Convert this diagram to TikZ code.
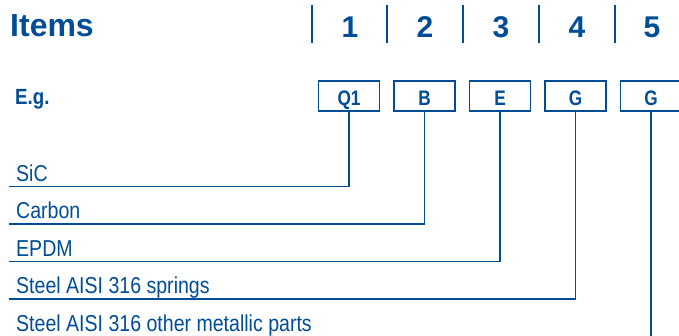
\documentclass[tikz,border=0pt]{standalone}
\usepackage{fontspec}
\setmainfont{Liberation Sans}
\newfontfamily\narrowfont[FakeStretch=0.85]{Liberation Sans}
\newfontfamily\boxfont[FakeStretch=0.82]{Liberation Sans}
\usepackage{xcolor}
\usetikzlibrary{positioning}
\definecolor{itemblue}{RGB}{0,76,151}
\tikzset{
  % boxes holding the code letters
  codebox/.style={draw=itemblue, line width=1.4pt, minimum width=61pt,
    minimum height=30pt, inner sep=0pt, text=itemblue, text height=19.5pt,
    text depth=0pt, font=\boxfont\bfseries\fontsize{21}{21}\selectfont},
  matlabel/.style={anchor=base west, inner sep=0pt, text=itemblue,
    font=\narrowfont\fontsize{23}{23}\selectfont},
  leader/.style={draw=itemblue, line width=1.4pt},
}

\begin{document}
\begin{tikzpicture}[x=1pt, y=-1pt]
  \useasboundingbox (0,0) rectangle (679,335);
  \node[anchor=base west, inner sep=0pt, text=itemblue,
    font=\bfseries\fontsize{32}{32}\selectfont] (items) at (10,36) {Items};
  \foreach \x in {312,387,463,539,615}
    \draw[itemblue, line width=1.2pt] (\x,5) -- (\x,43);
  \foreach \n/\x in {1/350,2/425,3/501,4/577,5/652}
    \node[anchor=base, inner sep=0pt, text=itemblue,
      font=\bfseries\fontsize{30}{30}\selectfont] (digit\n) at (\x,37) {\n};
  \node[anchor=base west, inner sep=0pt, text=itemblue,
    font=\narrowfont\bfseries\fontsize{22}{22}\selectfont] (eg) at (15,104) {E.g.};
  \foreach \n/\x/\t in {1/349/Q1,2/424.5/B,3/500/E,4/575.5/G,5/651/G}
    \node[codebox] (box\n) at (\x,96) {\t};
  \foreach \n/\y/\t in {1/181/SiC,2/218.5/Carbon,3/256/EPDM,
      4/293.5/Steel AISI 316 springs,5/331/Steel AISI 316 other metallic parts}
    {
      \node[matlabel] (mat\n) at (16,\y) {\t};
      \coordinate (end\n) at (9,\y+5.5);
    }
  \coordinate (end5) at (651,337);
  \foreach \n in {1,...,4}
    \draw[leader] (box\n.south) |- (end\n);
  \draw[leader] (box5.south) -- (end5);
\end{tikzpicture}
\end{document}
